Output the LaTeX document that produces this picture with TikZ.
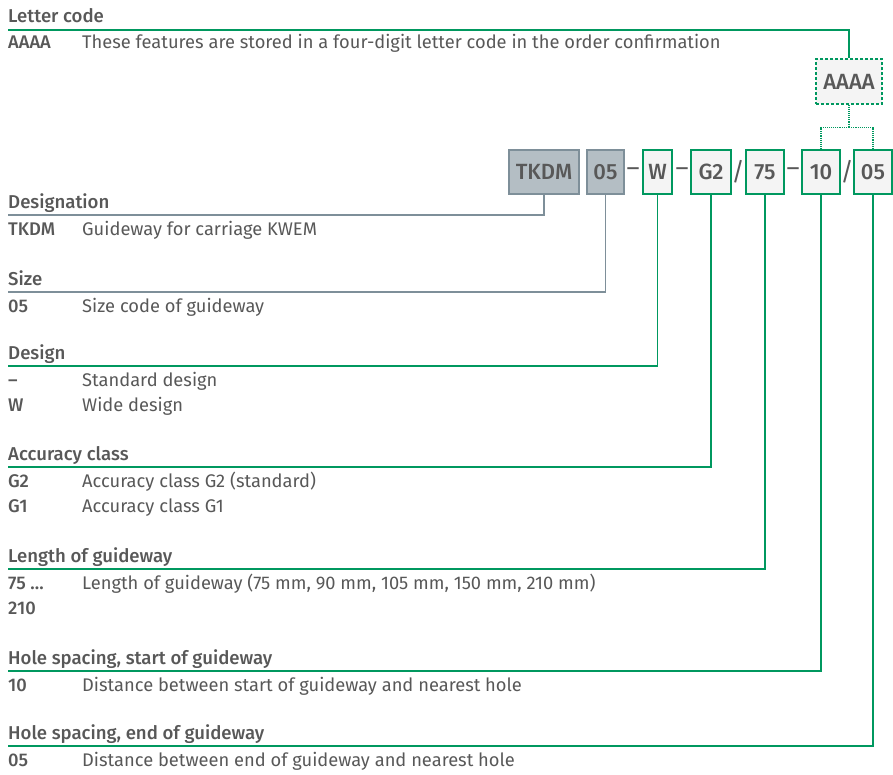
\documentclass[tikz,border=0pt]{standalone}
\usepackage{fontspec}
\setmainfont{Fira Sans}[BoldFont={Fira Sans Medium}]
\usetikzlibrary{positioning}
\definecolor{txtgray}{RGB}{88,88,88}
\definecolor{codegreen}{RGB}{0,152,95}
\definecolor{codeblue}{RGB}{126,143,153}
\definecolor{bluefill}{RGB}{180,190,196}
\definecolor{boxfill}{RGB}{244,244,244}

\begin{document}
\begin{tikzpicture}[x=1pt,y=-1pt,
    every node/.style={text=txtgray,font=\fontsize{18.3}{22}\selectfont},
    head/.style={anchor=base west,inner sep=0pt,font=\fontsize{18.6}{22}\selectfont\bfseries},
    key/.style={anchor=base west,inner sep=0pt,font=\fontsize{18.3}{22}\selectfont\bfseries},
    desc/.style={anchor=base west,inner sep=0pt},
    codebox/.style={minimum height=44pt,inner sep=0pt,line width=1.2pt,
        font=\fontsize{22}{26}\selectfont\bfseries},
    greybox/.style={codebox,draw=codeblue,fill=bluefill},
    greenbox/.style={codebox,draw=codegreen,fill=boxfill},
    sep/.style={inner sep=0pt,font=\fontsize{25}{28}\selectfont},
    leader/.style={line width=1.1pt}
]
    \useasboundingbox (0,0) rectangle (893,774);

    % code boxes
    \node[greybox,minimum width=70pt] (tkdm) at (544,172) {TKDM};
    \node[greybox,minimum width=37pt] (size) at (605.5,172) {05};
    \node[sep] (d1) at (633,172) {--};
    \node[greenbox,minimum width=29pt] (design) at (657.5,172) {W};
    \node[sep] (d2) at (682,172) {--};
    \node[greenbox,minimum width=40pt] (acc) at (711,172) {G2};
    \node[sep] (s1) at (738,172) {/};
    \node[greenbox,minimum width=38pt] (len) at (765,172) {75};
    \node[sep] (d3) at (793,172) {--};
    \node[greenbox,minimum width=38pt] (hstart) at (821,172) {10};
    \node[sep] (s2) at (847,172) {/};
    \node[greenbox,minimum width=38pt] (hend) at (873,172) {05};

    \node[codebox,draw=codegreen,fill=boxfill,densely dashed,minimum width=66pt,minimum height=45pt]
        (aaaa) at (849,81.5) {AAAA};
    \draw[codegreen,densely dotted,line width=1.1pt] (aaaa.south) -- ++(0,23) -| (hstart.north);
    \draw[codegreen,densely dotted,line width=1.1pt] (aaaa.south) -- ++(0,23) -| (hend.north);

    % letter code
    \node[head] (hletter) at (8,22) {Letter code};
    \coordinate (lletter) at (8,30);
    \draw[leader,codegreen] (lletter) -| (aaaa.north);
    \node[key] at (8,48) {AAAA};
    \node[desc] at (82,48) {These features are stored in a four-digit letter code in the order confirmation};

    % designation
    \node[head] (hdesig) at (8,208) {Designation};
    \coordinate (ldesig) at (8,215);
    \draw[leader,codeblue] (tkdm.south) |- (ldesig);
    \node[key] at (8,235) {TKDM};
    \node[desc] at (82,235) {Guideway for carriage KWEM};

    % size
    \node[head] (hsize) at (8,285) {Size};
    \coordinate (lsize) at (8,292);
    \draw[leader,codeblue] (size.south) |- (lsize);
    \node[key] at (8,312) {05};
    \node[desc] at (82,312) {Size code of guideway};

    % design
    \node[head] (hdesign) at (8,359) {Design};
    \coordinate (ldesign) at (8,366);
    \draw[leader,codegreen] (design.south) |- (ldesign);
    \node[key] at (8,386) {--};
    \node[desc] at (82,386) {Standard design};
    \node[key] at (8,411) {W};
    \node[desc] at (82,411) {Wide design};

    % accuracy class
    \node[head] (hacc) at (8,460) {Accuracy class};
    \coordinate (lacc) at (8,467);
    \draw[leader,codegreen] (acc.south) |- (lacc);
    \node[key] at (8,487) {G2};
    \node[desc] at (82,487) {Accuracy class G2 (standard)};
    \node[key] at (8,512) {G1};
    \node[desc] at (82,512) {Accuracy class G1};

    % length
    \node[head] (hlen) at (8,562) {Length of guideway};
    \coordinate (llen) at (8,569);
    \draw[leader,codegreen] (len.south) |- (llen);
    \node[key] at (8,589) {75 \dots};
    \node[desc] at (82,589) {Length of guideway (75 mm, 90 mm, 105 mm, 150 mm, 210 mm)};
    \node[key] at (8,614) {210};

    % hole spacing, start
    \node[head] (hstarth) at (8,664) {Hole spacing, start of guideway};
    \coordinate (lstart) at (8,671);
    \draw[leader,codegreen] (hstart.south) |- (lstart);
    \node[key] at (8,691) {10};
    \node[desc] at (82,691) {Distance between start of guideway and nearest hole};

    % hole spacing, end
    \node[head] (hendh) at (8,739) {Hole spacing, end of guideway};
    \coordinate (lend) at (8,746);
    \draw[leader,codegreen] (hend.south) |- (lend);
    \node[key] at (8,766) {05};
    \node[desc] at (82,766) {Distance between end of guideway and nearest hole};
\end{tikzpicture}
\end{document}
